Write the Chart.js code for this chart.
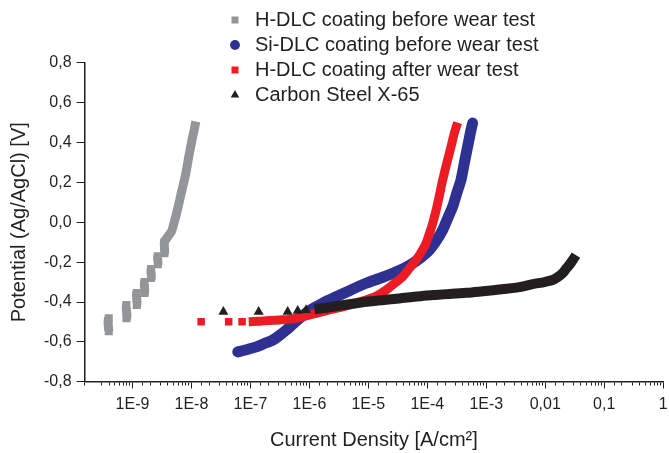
<!DOCTYPE html>
<html>
<head>
<meta charset="utf-8">
<script src="https://cdn.jsdelivr.net/npm/chart.js@4.4.1/dist/chart.umd.min.js"></script>
<style>
  body { margin: 0; background: #fff; }
  #wrap { width: 669px; height: 453px; }
</style>
</head>
<body>
<div id="wrap"><canvas id="chart"></canvas></div>
<script>
// H-DLC coating before wear test (grey squares, stepped at low current)
var hdlcBeforeCurrent = [3.96e-10, 3.96e-10, 7.9e-10, 7.9e-10, 1.18e-9, 1.18e-9, 1.6e-9, 1.6e-9, 2.07e-9, 2.07e-9,
  2.69e-9, 2.69e-9, 3.48e-9, 3.48e-9, 4.6e-9, 5.1e-9, 5.65e-9, 6.2e-9, 6.7e-9, 7.25e-9, 7.8e-9, 8.4e-9,
  9.0e-9, 9.6e-9, 1.02e-8, 1.08e-8, 1.13e-8, 1.19e-8];
var hdlcBeforePotential = [-0.546, -0.481, -0.481, -0.415, -0.415, -0.355, -0.355, -0.300, -0.280, -0.235,
  -0.210, -0.170, -0.155, -0.099, -0.045, 0.000, 0.050, 0.100, 0.145, 0.187, 0.228, 0.277,
  0.329, 0.372, 0.412, 0.445, 0.475, 0.505];

// Si-DLC coating before wear test (blue circles)
var sidlcCurrent = [6.1e-8, 8.55e-8, 1.25e-7, 1.73e-7, 2.39e-7, 3.1e-7, 4.03e-7, 5.15e-7, 6.78e-7, 9.25e-7,
  1.3e-6, 1.87e-6, 2.84e-6, 4.76e-6, 9.1e-6, 1.53e-5, 2.58e-5, 4.07e-5, 5.64e-5, 7.9e-5,
  1.08e-4, 1.42e-4, 1.82e-4, 2.22e-4, 2.69e-4, 3.16e-4, 3.72e-4, 4.24e-4, 4.82e-4, 5.36e-4, 5.86e-4];
var sidlcPotential = [-0.650, -0.639, -0.625, -0.608, -0.591, -0.568, -0.541, -0.513, -0.482, -0.450,
  -0.424, -0.398, -0.374, -0.343, -0.306, -0.282, -0.256, -0.230, -0.206, -0.175,
  -0.139, -0.092, -0.039, 0.021, 0.078, 0.146, 0.212, 0.297, 0.379, 0.447, 0.497];

// H-DLC coating after wear test (red squares)
var hdlcAfterCurrent = [1.46e-8, 4.28e-8, 7.22e-8, 9.35e-8, 1.42e-7, 2.1e-7, 3.1e-7, 4.58e-7, 6.78e-7, 1.3e-6,
  2.18e-6, 3.66e-6, 5.8e-6, 9.1e-6, 1.37e-5, 2.0e-5, 2.76e-5, 3.81e-5, 4.95e-5, 6.43e-5,
  7.9e-5, 9.5e-5, 1.08e-4, 1.23e-4, 1.37e-4, 1.5e-4, 1.66e-4, 1.82e-4, 2.14e-4, 2.52e-4, 2.87e-4, 3.27e-4];
var hdlcAfterPotential = [-0.499, -0.499, -0.499, -0.499, -0.496, -0.493, -0.490, -0.487, -0.478, -0.457,
  -0.440, -0.424, -0.408, -0.390, -0.370, -0.340, -0.307, -0.273, -0.232, -0.190,
  -0.149, -0.106, -0.059, -0.006, 0.046, 0.095, 0.156, 0.212, 0.297, 0.379, 0.447, 0.500];

// Carbon Steel X-65 (black triangles)
var steelCurrent = [3.48e-8, 1.38e-7, 4.28e-7, 6.34e-7, 8.79e-7, 1.22e-6, 2.48e-6, 9.1e-6, 3.35e-5, 1.23e-4,
  4.53e-4, 1.66e-3, 3.62e-3, 6.1e-3, 9.6e-3, 1.33e-2, 1.6e-2, 1.96e-2, 2.27e-2, 2.55e-2, 2.92e-2, 3.31e-2];
var steelPotential = [-0.449, -0.449, -0.449, -0.444, -0.440, -0.437, -0.424, -0.399, -0.382, -0.365,
  -0.354, -0.337, -0.325, -0.310, -0.300, -0.290, -0.277, -0.256, -0.232, -0.215, -0.190, -0.165];

var seriesNames = ["H-DLC coating before wear test", "Si-DLC coating before wear test",
  "H-DLC coating after wear test", "Carbon Steel X-65"];

var ink = "#231f20";
Chart.defaults.font.family = "'Liberation Sans', Arial, sans-serif";
Chart.defaults.color = ink;

function toPoints(xs, ys) {
  var pts = [];
  for (var i = 0; i < xs.length; i++) pts.push({ x: xs[i], y: ys[i] });
  return pts;
}

// the first few readings are loose markers, after that the markers merge into a band
function makeSet(name, xs, ys, color, style, radius, band, markUntil, lineFrom, order, cap) {
  return {
    label: name,
    data: toPoints(xs, ys),
    showLine: true,
    borderColor: color,
    backgroundColor: color,
    borderWidth: band,
    borderCapStyle: cap,
    borderJoinStyle: "round",
    tension: 0.2,
    pointStyle: style,
    pointBackgroundColor: color,
    pointBorderWidth: 0,
    pointRadius: function (ctx) { return ctx.dataIndex < markUntil ? radius : 0; },
    pointHoverRadius: 0,
    order: order,
    segment: {
      borderColor: function (ctx) {
        if (ctx.p0DataIndex >= lineFrom || ctx.p0.x === ctx.p1.x) return undefined;
        return "rgba(0,0,0,0)";
      }
    }
  };
}

function isDecade(v) {
  var e = Math.log10(v);
  return Math.abs(e - Math.round(e)) < 1e-6;
}

function decadeLabel(v) {
  var e = Math.round(Math.log10(v));
  if (e === 0) return "1";
  if (e === -1) return "0,1";
  if (e === -2) return "0,01";
  return "1E" + e;
}

function isMajorY(v) {
  return Math.round(v * 10) % 2 === 0;
}

// put the vertical legend above the plot, where the original has it
var legendSpot = {
  id: "legendSpot",
  afterLayout: function (chart) {
    var lg = chart.legend;
    lg.left = 220;
    lg.top = 5;
    lg.right = 669;
    lg.bottom = 200;
  }
};

var chart = new Chart(document.getElementById("chart"), {
  type: "scatter",
  data: {
    datasets: [
      makeSet(seriesNames[0], hdlcBeforeCurrent, hdlcBeforePotential, "#939598", "rect", 5.66, 9, 14, 13, 4, "butt"),
      makeSet(seriesNames[1], sidlcCurrent, sidlcPotential, "#2e3192", "circle", 5.5, 11, 0, 0, 3, "round"),
      makeSet(seriesNames[2], hdlcAfterCurrent, hdlcAfterPotential, "#ed1c24", "rect", 5.3, 9, 3, 3, 2, "butt"),
      makeSet(seriesNames[3], steelCurrent, steelPotential, ink, "triangle", 5.8, 10, 5, 5, 1, "butt")
    ]
  },
  options: {
    animation: false,
    responsive: true,
    maintainAspectRatio: false,
    layout: { padding: { top: 62.7, right: 0, bottom: 0, left: 7 } },
    plugins: {
      legend: {
        position: "chartArea",
        align: "start",
        labels: {
          usePointStyle: true,
          boxWidth: 20,
          boxHeight: 7,
          padding: 5,
          color: ink,
          font: { size: 20 },
          sort: function (a, b) { return a.datasetIndex - b.datasetIndex; }
        }
      },
      tooltip: { enabled: false }
    },
    scales: {
      x: {
        type: "logarithmic",
        min: 1.54e-10,
        max: 1,
        border: { color: ink, width: 1.5 },
        grid: {
          drawOnChartArea: false,
          // long tick slot keeps the labels low; the dash trims the visible mark
          tickLength: 13,
          tickColor: ink,
          tickBorderDash: function (ctx) { return isDecade(ctx.tick.value) ? [6, 50] : [3, 50]; }
        },
        ticks: {
          autoSkip: false,
          maxRotation: 0,
          padding: 0,
          color: ink,
          font: { size: 16 },
          callback: function (v) { return isDecade(v) ? decadeLabel(v) : ""; }
        },
        title: {
          display: true,
          text: "Current Density [A/cm²]",
          color: ink,
          font: { size: 20 },
          padding: { top: 14, bottom: 1 }
        }
      },
      y: {
        min: -0.8,
        max: 0.8,
        border: { color: ink, width: 1.5 },
        grid: {
          drawOnChartArea: false,
          tickLength: 8,
          tickColor: ink,
          tickBorderDash: function (ctx) { return isMajorY(ctx.tick.value) ? [] : [0, 4.5, 3.5, 50]; }
        },
        ticks: {
          stepSize: 0.1,
          padding: 5,
          color: ink,
          font: { size: 16 },
          callback: function (v) {
            if (!isMajorY(v)) return "";
            if (Math.abs(v) < 1e-9) return "0,0";
            return v.toFixed(1).replace(".", ",");
          }
        },
        title: {
          display: true,
          text: "Potential (Ag/AgCl) [V]",
          color: ink,
          font: { size: 20 },
          padding: { top: 0, bottom: 8 }
        }
      }
    }
  },
  plugins: [legendSpot]
});
</script>
</body>
</html>
